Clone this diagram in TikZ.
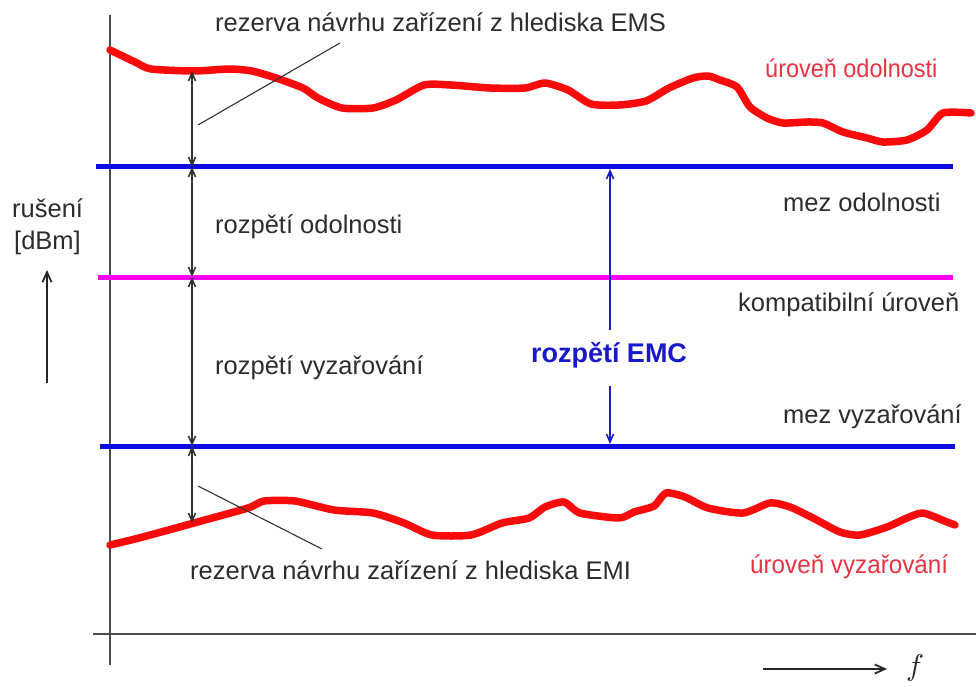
\documentclass[tikz,border=0pt]{standalone}
\usepackage{fontspec}
\setmainfont{Liberation Sans}
\usetikzlibrary{arrows.meta}
\definecolor{curvered}{RGB}{250,10,10}
\definecolor{labelred}{RGB}{232,52,64}
\definecolor{limitblue}{RGB}{10,10,225}
\definecolor{emcblue}{RGB}{25,25,200}
\definecolor{compmag}{RGB}{250,0,250}
\definecolor{txtgray}{RGB}{45,45,45}
\begin{document}
\begin{tikzpicture}[x=1pt,y=-1pt,
  lbl/.style={font=\fontsize{25.5}{30}\selectfont, text=txtgray, inner sep=0pt},
  redlbl/.style={lbl, text=labelred},
  axisline/.style={draw=black!70, line width=1.8pt},
  limitline/.style={draw=limitblue, line width=5pt},
  compline/.style={draw=compmag, line width=5pt},
  levelcurve/.style={draw=curvered, line width=7.5pt, line join=round, line cap=round},
  barb/.style={{Straight Barb[length=8pt,width=7pt]}-{Straight Barb[length=8pt,width=7pt]}, draw=black!80, line width=1.6pt},
  emcarrow/.style={-{Straight Barb[length=8pt,width=7pt]}, draw=emcblue, line width=1.6pt},
  leader/.style={draw=black!80, line width=1.1pt},
  upar/.style={-{Straight Barb[length=10pt,width=9pt]}, draw=black!85, line width=1.8pt}
]
\useasboundingbox[fill=white] (0,0) rectangle (976,687);

% axes
\coordinate (yaxtop) at (110,15);
\coordinate (yaxbot) at (110,665);
\coordinate (xaxl) at (93,634);
\coordinate (xaxr) at (976,634);
\draw[axisline] (yaxtop) -- (yaxbot);
\draw[axisline] (xaxl) -- (xaxr);

% limit lines
\coordinate (imL) at (96,167);  \coordinate (imR) at (953,167);
\coordinate (cpL) at (98,277);  \coordinate (cpR) at (953,277);
\coordinate (emL) at (100,446); \coordinate (emR) at (955,446);
\draw[limitline] (imL) -- (imR);
\draw[compline] (cpL) -- (cpR);
\draw[limitline] (emL) -- (emR);

% immunity level curve
\draw[levelcurve] plot[smooth, tension=0.4] coordinates {
 (110,50) (135,62) (151,69) (194,71) (229,69) (252,71) (276,78) (303,88)
 (318,98) (342,108) (373,108) (396,100) (424,85) (451,85) (490,88) (525,88)
 (545,83) (568,90) (591,104) (619,105) (646,101) (669,88) (693,78) (708,76)
 (720,80) (737,87) (750,107) (767,118) (783,123) (807,122) (823,123) (843,132)
 (867,138) (883,142) (907,140) (927,130) (943,113) (971,113)};

% emission level curve
\draw[levelcurve] plot[smooth, tension=0.4] coordinates {
 (110,545) (139,538) (194,523) (248,508) (264,501) (295,501) (334,510) (373,513)
 (404,523) (432,535) (471,535) (502,523) (529,518) (545,507) (564,502) (580,513)
 (619,518) (634,512) (654,506) (666,493) (685,497) (708,508) (743,513) (770,503)
 (790,507) (813,518) (840,532) (860,535) (887,527) (907,518) (923,513) (947,522)
 (955,525)};

% dimension chain
\coordinate (d0) at (192,71);
\coordinate (d1) at (192,167);
\coordinate (d2) at (192,277);
\coordinate (d3) at (192,446);
\coordinate (d4) at (192,523);
\draw[barb] (d0) -- (d1);
\draw[barb] (d1) -- (d2);
\draw[barb] (d2) -- (d3);
\draw[barb] (d3) -- (d4);

% leaders
\coordinate (lemsA) at (198,125);
\coordinate (lemsB) at (340,43);
\coordinate (lemiA) at (198,486);
\coordinate (lemiB) at (322,549);
\draw[leader] (lemsA) -- (lemsB);
\draw[leader] (lemiA) -- (lemiB);

% labels
\node[lbl, anchor=west] (tems) at (215,22) {rezerva návrhu zařízení z hlediska EMS};
\node[redlbl, anchor=west] (tuo) at (765,68) {\scalebox{0.92}[1]{úroveň odolnosti}};
\node[lbl, anchor=west] (tmo) at (783,202) {mez odolnosti};
\node[lbl, anchor=west] (tro) at (215,227) {rozpětí odolnosti};
\node[lbl, anchor=west] (tku) at (738,305) {kompatibilní úroveň};
\node[lbl, anchor=west] (trv) at (215,368) {rozpětí vyzařování};
\node[lbl, anchor=west] (tmv) at (783,417) {mez vyzařování};
\node[lbl, anchor=west] (temi) at (190,570) {rezerva návrhu zařízení z hlediska EMI};
\node[redlbl, anchor=west] (tuv) at (750,567) {\scalebox{0.95}[1]{úroveň vyzařování}};
\node[lbl, anchor=west] (trus) at (12,208) {rušení};
\node[lbl, anchor=west] (tdbm) at (14,243) {[dBm]};

% EMC span
\node[font=\fontsize{27}{30}\selectfont\bfseries, text=emcblue, inner sep=0pt] (temc) at (609,355) {rozpětí EMC};
\coordinate (ec1) at (610,330);
\coordinate (ec2) at (610,386);
\coordinate (ectop) at (610,169);
\coordinate (ecbot) at (610,444);
\draw[emcarrow] (ec1) -- (ectop);
\draw[emcarrow] (ec2) -- (ecbot);

% left quantity arrow
\coordinate (qa1) at (47,383);
\coordinate (qa2) at (47,270);
\draw[upar] (qa1) -- (qa2);

% frequency arrow
\coordinate (fa1) at (763,669);
\coordinate (fa2) at (887,669);
\draw[upar] (fa1) -- (fa2);
\node[text=black!85, inner sep=0pt] (tf) at (915,668) {\scalebox{3}{$f$}};
\end{tikzpicture}
\end{document}
